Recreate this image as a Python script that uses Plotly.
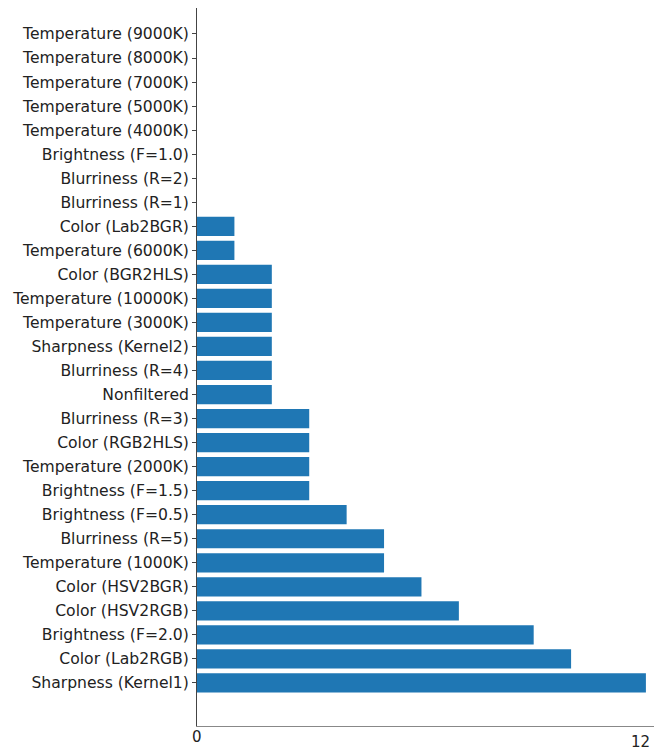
import plotly.graph_objects as go

categories = [
    "Sharpness (Kernel1)", "Color (Lab2RGB)", "Brightness (F=2.0)", "Color (HSV2RGB)",
    "Color (HSV2BGR)", "Temperature (1000K)", "Blurriness (R=5)", "Brightness (F=0.5)",
    "Brightness (F=1.5)", "Temperature (2000K)", "Color (RGB2HLS)", "Blurriness (R=3)",
    "Nonfiltered", "Blurriness (R=4)", "Sharpness (Kernel2)", "Temperature (3000K)",
    "Temperature (10000K)", "Color (BGR2HLS)", "Temperature (6000K)", "Color (Lab2BGR)",
    "Blurriness (R=1)", "Blurriness (R=2)", "Brightness (F=1.0)", "Temperature (4000K)",
    "Temperature (5000K)", "Temperature (7000K)", "Temperature (8000K)", "Temperature (9000K)",
]
values = [12, 10, 9, 7, 6, 5, 5, 4, 3, 3, 3, 3, 2, 2, 2, 2, 2, 2, 1, 1, 0, 0, 0, 0, 0, 0, 0, 0]
x_labels = ["0", "12"]
x_label_vals = [0, 12]

n = len(categories)
fig = go.Figure(go.Bar(
    x=values, y=list(range(n)), orientation="h",
    marker=dict(color="#1f77b4", line=dict(width=0)), width=0.8,
))

fig.update_layout(
    width=662, height=752,
    margin=dict(l=189, r=8, t=0, b=34),
    plot_bgcolor="white", paper_bgcolor="white",
    showlegend=False,
    font=dict(family="DejaVu Sans", size=15.6, color="#222"),
)
fig.update_yaxes(
    tickmode="array", tickvals=list(range(n)), ticktext=categories,
    range=[-1.79, 28.08], showgrid=False, zeroline=False, automargin=False,
    showline=True, linecolor="#444", linewidth=1,
    ticks="outside", ticklen=4, tickcolor="#444",
)
fig.update_xaxes(
    range=[0, 12.43], showgrid=False, zeroline=False, automargin=False,
    showline=True, linecolor="#888", linewidth=1,
    showticklabels=False, ticks="",
)
shifts = [0, -5]
for lab, v, sh in zip(x_labels, x_label_vals, shifts):
    fig.add_annotation(x=v, y=0, xref="x", yref="paper", text=lab, showarrow=False,
                       yanchor="top", yshift=sh, xshift=(0 if v == 0 else -5),
                       font=dict(family="DejaVu Sans", size=15, color="#222"))

fig.write_html("out.html")
